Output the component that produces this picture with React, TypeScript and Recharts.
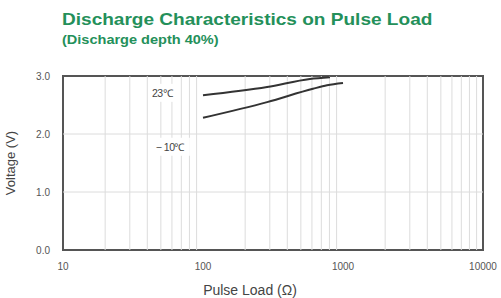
import React from 'react';
import {
  LineChart,
  Line,
  XAxis,
  YAxis,
  ReferenceLine,
  ReferenceArea,
  ReferenceDot,
  Label,
} from 'recharts';

// pulse load (ohm) and voltage readings
const loads23 = [100, 287, 580, 807];
const volts23 = [2.67, 2.81, 2.95, 2.98];
const loadsMinus10 = [100, 287, 610, 769, 1000];
const voltsMinus10 = [2.28, 2.55, 2.78, 2.84, 2.88];

const xTicks = [10, 100, 1000, 10000];
const yTicks = [0, 1, 2, 3];
const minorX = [20, 30, 40, 50, 60, 70, 80, 90, 200, 300, 400, 500, 600, 700, 800, 900, 2000, 3000, 4000, 5000, 6000, 7000, 8000, 9000];
const minorY = [1, 2];

const annotations = [
  { x: 51, y: 2.71, text: '23℃' },
  { x: 58, y: 1.78, text: '− 10℃' },
];

const series23 = loads23.map((x, i) => ({ x, v: volts23[i] }));
const seriesMinus10 = loadsMinus10.map((x, i) => ({ x, v: voltsMinus10[i] }));

const GREEN = '#24905a';
const FONT = 'Liberation Sans, Arial, sans-serif';

const TagLabel = (props: any) => {
  const { viewBox, value } = props;
  const cx = viewBox.x + (viewBox.width || 0) / 2;
  const cy = viewBox.y + (viewBox.height || 0) / 2;
  const w = value.length * 6 + 10;
  return (
    <g>
      <rect x={cx - w / 2} y={cy - 9} width={w} height={18} fill="#fff" />
      <text x={cx} y={cy} textAnchor="middle" dominantBaseline="central" fontSize={10.5} fill="#444" fontFamily={FONT} letterSpacing={-0.5}>
        {value}
      </text>
    </g>
  );
};

export default function App() {
  return (
    <div style={{ position: 'absolute', left: 0, top: 0, width: 501, height: 298, background: '#fff', fontFamily: FONT }}>
      <div style={{ position: 'absolute', left: 62, top: 10, lineHeight: '20px', color: GREEN, fontWeight: 'bold', fontSize: 17, whiteSpace: 'nowrap', transform: 'scaleX(1.12)', transformOrigin: 'left center' }}>
        Discharge Characteristics on Pulse Load
      </div>
      <div style={{ position: 'absolute', left: 62, top: 32, lineHeight: '16px', color: GREEN, fontWeight: 'bold', fontSize: 12, whiteSpace: 'nowrap', transform: 'scaleX(1.21)', transformOrigin: 'left center' }}>
        (Discharge depth 40%)
      </div>
      <LineChart width={501} height={298} margin={{ top: 76, right: 18, bottom: 0, left: 0 }}>
        <XAxis
          dataKey="x"
          type="number"
          scale="log"
          domain={[10, 10000]}
          ticks={xTicks}
          allowDataOverflow
          height={48}
          axisLine={false}
          tickLine={false}
          tickSize={0}
          tickMargin={13}
          tick={{ fill: '#555', fontSize: 10, fontFamily: FONT }}
        >
          <Label value="Pulse Load (Ω)" position="insideBottom" offset={3} dx={-23} fill="#444" fontSize={14} fontFamily={FONT} />
        </XAxis>
        <YAxis
          type="number"
          domain={[0, 3]}
          ticks={yTicks}
          width={63}
          axisLine={false}
          tickLine={false}
          tickSize={0}
          tickMargin={13}
          tickFormatter={(v: number) => v.toFixed(1)}
          tick={{ fill: '#555', fontSize: 10, fontFamily: FONT }}
        >
          <Label value="Voltage (V)" angle={-90} position="insideLeft" offset={10} fill="#444" fontSize={13} fontFamily={FONT} style={{ textAnchor: 'middle' }} />
        </YAxis>
        {minorX.map((v) => (
          <ReferenceLine key={'x' + v} x={v} stroke="#dcdcdc" strokeWidth={1} />
        ))}
        {minorY.map((v) => (
          <ReferenceLine key={'y' + v} y={v} stroke="#dcdcdc" strokeWidth={1} />
        ))}
        {annotations.map((a) => (
          <ReferenceDot key={a.text} x={a.x} y={a.y} r={0} fill="none" stroke="none">
            <Label content={<TagLabel value={a.text} />} />
          </ReferenceDot>
        ))}
        <ReferenceArea x1={10} x2={10000} y1={0} y2={3} fill="none" stroke="#555" strokeWidth={2} ifOverflow="visible" />
        <Line data={series23} dataKey="v" type="monotone" stroke="#333" strokeWidth={2} dot={false} isAnimationActive={false} />
        <Line data={seriesMinus10} dataKey="v" type="monotone" stroke="#333" strokeWidth={2} dot={false} isAnimationActive={false} />
      </LineChart>
    </div>
  );
}
